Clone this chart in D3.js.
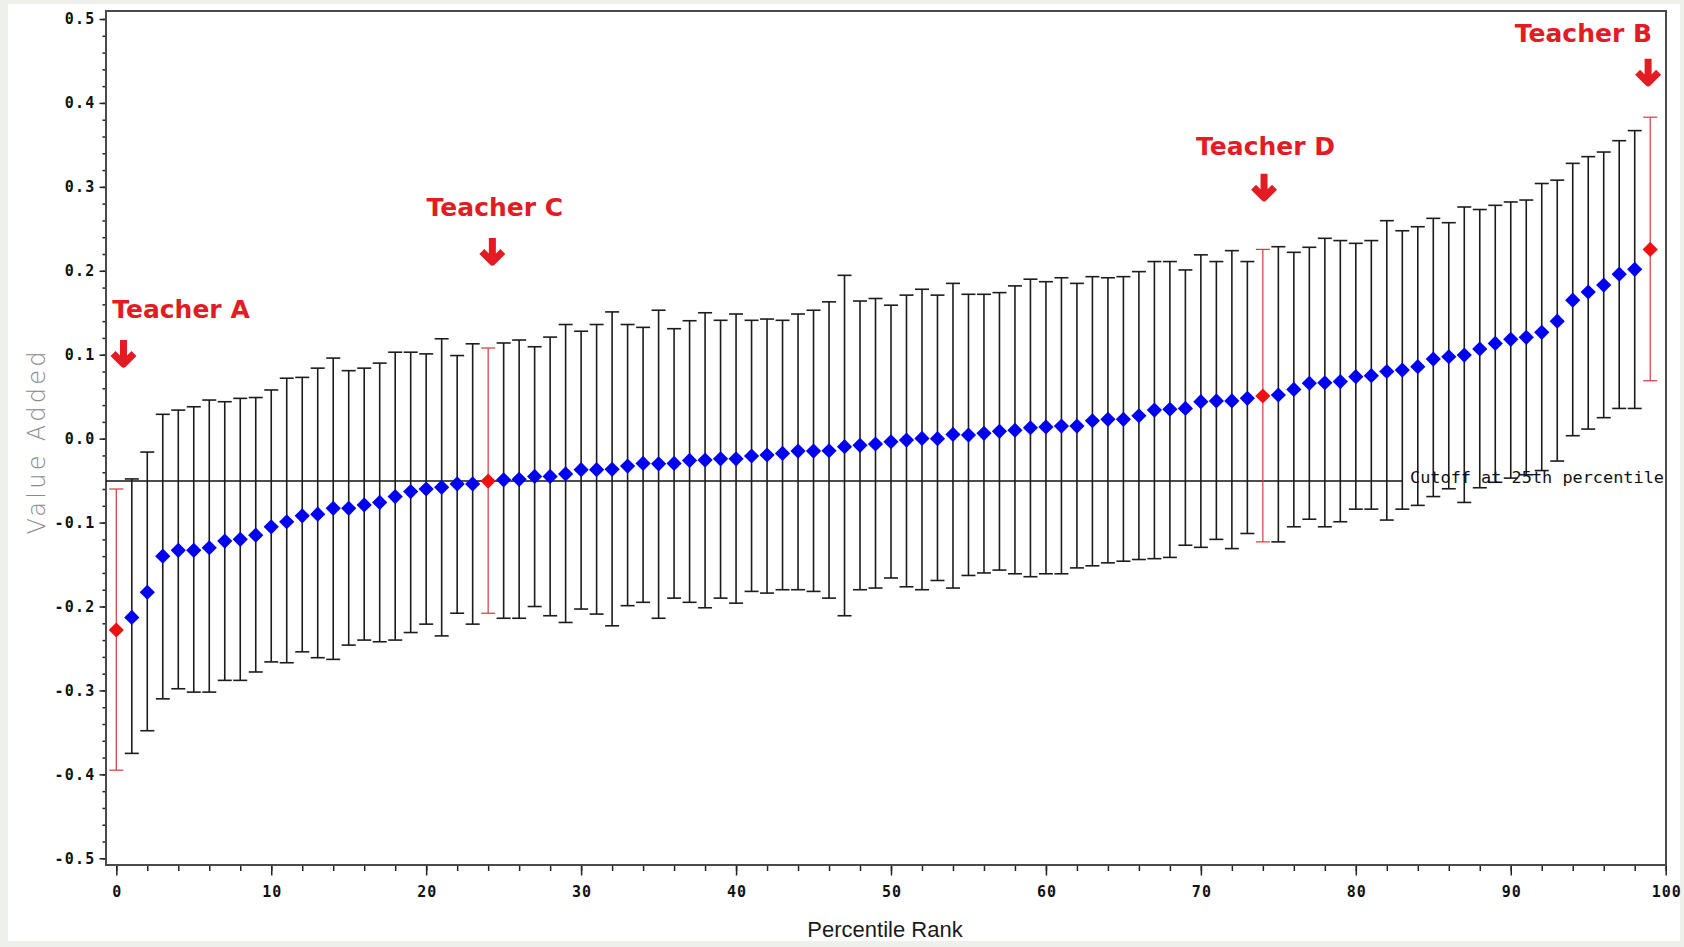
<!DOCTYPE html>
<html>
<head>
<meta charset="utf-8">
<script src="https://cdn.jsdelivr.net/npm/d3@7"></script>
<style>
  body { margin: 0; background: #eef0eb; }
  svg { display: block; }
  .tick text { font-family: "DejaVu Sans Mono", monospace; font-weight: bold; font-size: 15px; fill: #111; }
  .axis .domain { display: none; }
  .axis line { stroke: #222; stroke-width: 1.5; }
</style>
</head>
<body>
<svg id="chart" width="1684" height="947"></svg>
<script>
// percentile rank of each teacher (0..99)
const ranks = d3.range(0, 100);

// value-added estimate per rank
const means = [
  -0.228, -0.213, -0.183, -0.140, -0.133, -0.133, -0.130, -0.122, -0.120, -0.115,
  -0.105, -0.099, -0.092, -0.090, -0.083, -0.083, -0.079, -0.076, -0.069, -0.063,
  -0.060, -0.058, -0.054, -0.054, -0.0505, -0.049, -0.0485, -0.045, -0.045, -0.042,
  -0.037, -0.037, -0.0366, -0.0327, -0.0295, -0.030, -0.0295, -0.026, -0.0255, -0.024,
  -0.024, -0.0207, -0.0195, -0.0176, -0.0148, -0.0148, -0.0144, -0.0096, -0.008, -0.0064,
  -0.0037, -0.0017, 0.0003, 0.000, 0.005, 0.0043, 0.0063, 0.0087, 0.010, 0.013,
  0.014, 0.015, 0.015, 0.0213, 0.023, 0.023, 0.0273, 0.034, 0.035, 0.036,
  0.044, 0.045, 0.045, 0.048, 0.0508, 0.052, 0.0587, 0.066, 0.0666, 0.068,
  0.0738, 0.075, 0.080, 0.0817, 0.0857, 0.0948, 0.0976, 0.0996, 0.1068, 0.1135,
  0.1183, 0.1207, 0.1267, 0.140, 0.165, 0.1747, 0.183, 0.196, 0.2017, 0.2255
];

// upper confidence limit
const upper = [
  -0.060, -0.048, -0.016, 0.029, 0.034, 0.038, 0.046, 0.044, 0.048, 0.049,
  0.058, 0.072, 0.073, 0.084, 0.096, 0.081, 0.084, 0.090, 0.103, 0.103,
  0.101, 0.119, 0.099, 0.113, 0.108, 0.114, 0.1175, 0.1095, 0.121, 0.136,
  0.128, 0.136, 0.151, 0.136, 0.1326, 0.153, 0.131, 0.1405, 0.150, 0.141,
  0.1485, 0.141, 0.1425, 0.141, 0.1485, 0.153, 0.163, 0.1946, 0.164, 0.167,
  0.159, 0.171, 0.178, 0.171, 0.185, 0.172, 0.172, 0.174, 0.182, 0.190,
  0.187, 0.1917, 0.185, 0.193, 0.1917, 0.193, 0.199, 0.211, 0.211, 0.201,
  0.219, 0.211, 0.224, 0.211, 0.2255, 0.2287, 0.222, 0.228, 0.2387, 0.236,
  0.2327, 0.236, 0.2597, 0.2477, 0.2525, 0.2625, 0.2573, 0.276, 0.273, 0.278,
  0.282, 0.2843, 0.304, 0.308, 0.328, 0.336, 0.3415, 0.355, 0.367, 0.383
];

// lower confidence limit
const lower = [
  -0.395, -0.375, -0.348, -0.310, -0.298, -0.302, -0.302, -0.288, -0.288, -0.278,
  -0.266, -0.267, -0.254, -0.261, -0.263, -0.246, -0.240, -0.242, -0.240, -0.231,
  -0.221, -0.235, -0.208, -0.221, -0.208, -0.214, -0.214, -0.200, -0.211, -0.219,
  -0.203, -0.209, -0.223, -0.199, -0.195, -0.214, -0.190, -0.195, -0.2015, -0.190,
  -0.196, -0.182, -0.184, -0.180, -0.180, -0.182, -0.190, -0.211, -0.180, -0.178,
  -0.166, -0.1765, -0.180, -0.169, -0.178, -0.163, -0.160, -0.1566, -0.161, -0.1645,
  -0.161, -0.161, -0.154, -0.1515, -0.148, -0.146, -0.144, -0.143, -0.1415, -0.127,
  -0.1295, -0.120, -0.131, -0.113, -0.123, -0.123, -0.105, -0.096, -0.105, -0.099,
  -0.084, -0.084, -0.097, -0.084, -0.0795, -0.069, -0.0597, -0.076, -0.0585, -0.052,
  -0.047, -0.043, -0.038, -0.0267, 0.0035, 0.0114, 0.025, 0.036, 0.036, 0.069
];

// highlighted teachers
const teacherNames = ['Teacher A', 'Teacher B', 'Teacher C', 'Teacher D'];
const teacherRanks = [0, 99, 24, 74];

const cutoffValue = -0.0505;
const cutoffLabel = 'Cutoff at 25th percentile';

const xTicks = [0, 10, 20, 30, 40, 50, 60, 70, 80, 90, 100];
const xMinorTicks = d3.range(0, 101, 2);
const yTicks = [-0.5, -0.4, -0.3, -0.2, -0.1, 0.0, 0.1, 0.2, 0.3, 0.4, 0.5];
const yMinorTicks = d3.range(-25, 26).map(i => i / 50);
const yTickLabels = ['-0.5', '-0.4', '-0.3', '-0.2', '-0.1', '0.0', '0.1', '0.2', '0.3', '0.4', '0.5'];

const xTitle = 'Percentile Rank';
const yTitle = 'Value Added';

// ---- layout ----
const frame = { left: 106, top: 11, right: 1666, bottom: 865 };
const red = '#e31b23';
// label / arrow placement for each teacher (pixels relative to the point)
const noteLayout = [
  { labelDx: 64.7, labelY: 318, arrowDx: 7.2, tipY: 368 },
  { labelDx: -66.8, labelY: 41.7, arrowDx: -2.1, tipY: 86.7 },
  { labelDx: 6.7, labelY: 216, arrowDx: 4.2, tipY: 266 },
  { labelDx: 2.7, labelY: 155, arrowDx: 1.2, tipY: 201.7 }
];

const svg = d3.select('#chart');

svg.append('rect')
  .attr('x', 8).attr('y', 4)
  .attr('width', 1672).attr('height', 937)
  .attr('fill', '#fff');

const x = d3.scaleLinear().domain([0, 100]).range([116.3, 1665.7]);
const y = d3.scaleLinear().domain([-0.5, 0.5]).range([858.3, 19]);

const points = ranks.map((r, i) => ({
  rank: r,
  mean: means[i],
  hi: upper[i],
  lo: lower[i],
  hl: teacherRanks.includes(r)
}));

// axes
const yAxisMinor = d3.axisLeft(y).tickValues(yMinorTicks).tickSize(3.5).tickSizeOuter(0).tickFormat('');
svg.append('g').attr('class', 'axis')
  .attr('transform', `translate(${frame.left},0)`)
  .call(yAxisMinor);

const yAxis = d3.axisLeft(y)
  .tickValues(yTicks)
  .tickSize(6.5)
  .tickPadding(4)
  .tickSizeOuter(0)
  .tickFormat((d, i) => yTickLabels[i]);
svg.append('g').attr('class', 'axis')
  .attr('transform', `translate(${frame.left},0)`)
  .call(yAxis)
  .selectAll('text').attr('letter-spacing', 1.2);

const xAxisMinor = d3.axisBottom(x).tickValues(xMinorTicks).tickSize(6).tickSizeOuter(0).tickFormat('');
svg.append('g').attr('class', 'axis')
  .attr('transform', `translate(0,${frame.bottom})`)
  .call(xAxisMinor);

const xAxis = d3.axisBottom(x)
  .tickValues(xTicks)
  .tickSize(10.5)
  .tickSizeOuter(0)
  .tickPadding(11)
  .tickFormat(d3.format('d'));
svg.append('g').attr('class', 'axis')
  .attr('transform', `translate(0,${frame.bottom})`)
  .call(xAxis)
  .selectAll('text').attr('letter-spacing', 1).attr('dx', 0.5);

// frame
svg.append('path')
  .attr('d', `M${frame.left},${frame.bottom}V${frame.top}H${frame.right}V${frame.bottom}Z`)
  .attr('fill', 'none')
  .attr('stroke', '#4a4a4a')
  .attr('stroke-width', 2);

// cutoff line
svg.append('line')
  .attr('x1', frame.left).attr('x2', 1403)
  .attr('y1', y(cutoffValue)).attr('y2', y(cutoffValue))
  .attr('stroke', '#111').attr('stroke-width', 1.4);

// error bars
const bars = svg.append('g').attr('class', 'errorbars');
const capW = 7;
const barSel = bars.selectAll('g').data(points).join('g')
  .attr('stroke', d => d.hl ? '#d43a3a' : '#1c1c1c')
  .attr('stroke-width', d => d.hl ? 1.2 : 1.6);
barSel.append('line')
  .attr('x1', d => x(d.rank)).attr('x2', d => x(d.rank))
  .attr('y1', d => y(d.hi)).attr('y2', d => y(d.lo));
barSel.append('line')
  .attr('x1', d => x(d.rank) - capW).attr('x2', d => x(d.rank) + capW)
  .attr('y1', d => y(d.hi)).attr('y2', d => y(d.hi));
barSel.append('line')
  .attr('x1', d => x(d.rank) - capW).attr('x2', d => x(d.rank) + capW)
  .attr('y1', d => y(d.lo)).attr('y2', d => y(d.lo));

// cutoff text
svg.append('text')
  .attr('x', 1410).attr('y', 482.5)
  .attr('font-family', '"DejaVu Sans Mono", monospace')
  .attr('font-size', 16)
  .attr('textLength', 254)
  .attr('lengthAdjust', 'spacingAndGlyphs')
  .attr('fill', '#111')
  .text(cutoffLabel);

// diamonds
const r = 7.6;
const diamond = `M0,${-r}L${r},0L0,${r}L${-r},0Z`;
svg.append('g').selectAll('path').data(points).join('path')
  .attr('d', diamond)
  .attr('transform', d => `translate(${x(d.rank)},${y(d.mean)})`)
  .attr('fill', d => d.hl ? '#ee1111' : '#0000f0');

// teacher notes
const notes = svg.append('g').attr('class', 'notes');
teacherNames.forEach((name, i) => {
  const L = noteLayout[i];
  const px = x(teacherRanks[i]);
  notes.append('text')
    .attr('x', px + L.labelDx).attr('y', L.labelY)
    .attr('text-anchor', 'middle')
    .attr('font-family', '"DejaVu Sans", sans-serif')
    .attr('font-weight', 'bold')
    .attr('font-size', 25)
    .attr('fill', red)
    .text(name);
  const ax = px + L.arrowDx, ty = L.tipY;
  notes.append('path')
    .attr('d', `M${ax},${ty - 28}V${ty - 4}M${ax - 10.5},${ty - 14.5}L${ax},${ty - 4}L${ax + 10.5},${ty - 14.5}`)
    .attr('fill', 'none')
    .attr('stroke', red)
    .attr('stroke-width', 7)
    .attr('stroke-linejoin', 'round');
});

// axis titles
svg.append('text')
  .attr('x', 885).attr('y', 937)
  .attr('text-anchor', 'middle')
  .attr('font-family', '"Liberation Sans", Arial, sans-serif')
  .attr('font-size', 22)
  .attr('fill', '#1a1a1a')
  .text(xTitle);

svg.append('text')
  .attr('transform', 'translate(45,443) rotate(-90)')
  .attr('text-anchor', 'middle')
  .attr('font-family', '"DejaVu Sans", sans-serif')
  .attr('font-weight', 300)
  .attr('font-size', 24)
  .attr('textLength', 183)
  .attr('lengthAdjust', 'spacing')
  .attr('fill', '#8a8a8a')
  .text(yTitle);
</script>
</body>
</html>
